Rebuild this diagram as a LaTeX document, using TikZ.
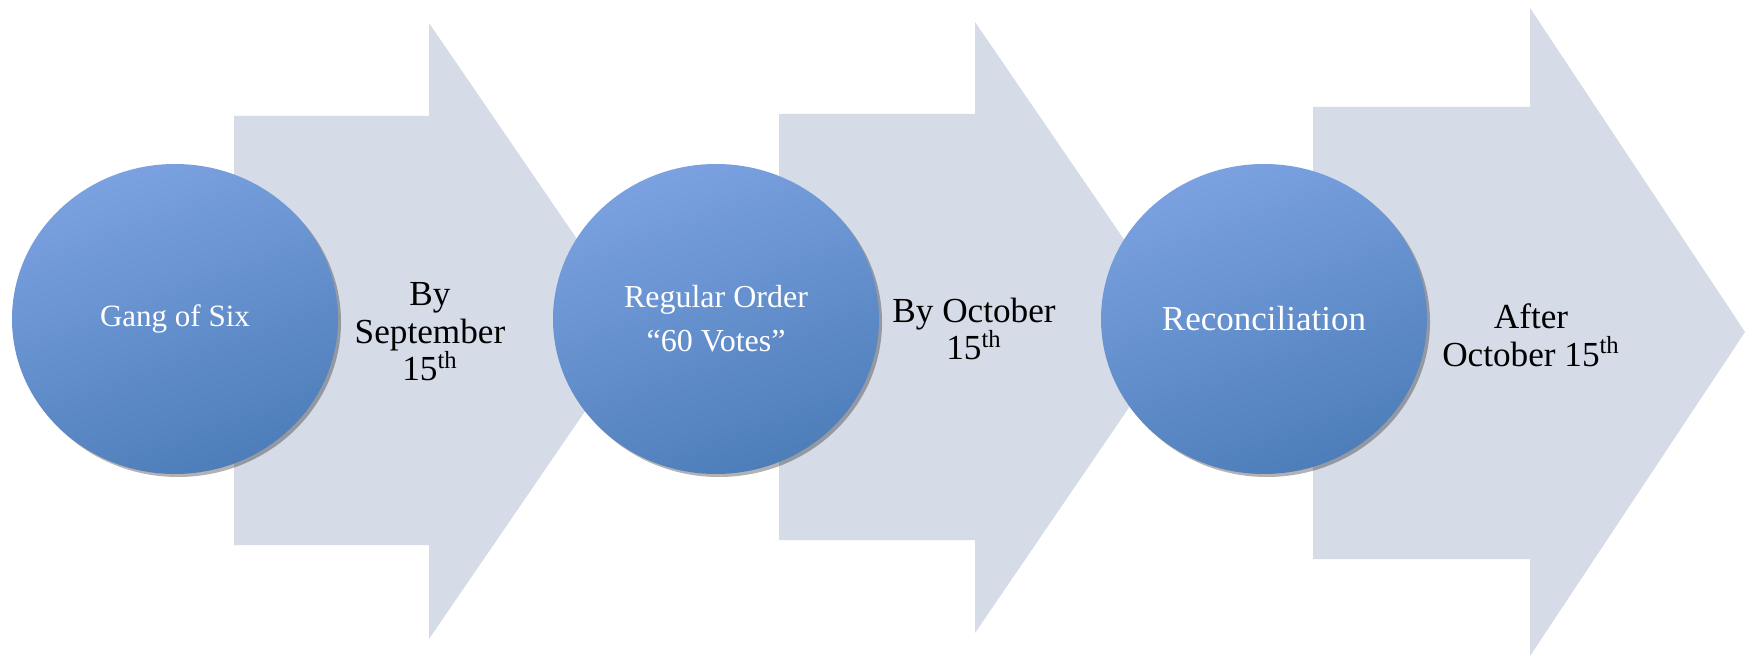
\documentclass[tikz,border=0pt]{standalone}
\usepackage{fontspec}
\setmainfont{Liberation Serif}
\usetikzlibrary{shapes.geometric,shadows}
\definecolor{arrowfill}{HTML}{D5DCE8}
\definecolor{circtop}{HTML}{7BA1E0}
\definecolor{circbot}{HTML}{4D7EBA}
\tikzset{
  stagearrow/.style={fill=arrowfill},
  stage/.style={ellipse, minimum width=163pt, minimum height=155pt, inner sep=0pt,
    top color=circtop, bottom color=circbot, shading angle=20,
    drop shadow={shadow xshift=1.5pt, shadow yshift=-1.5pt, opacity=0.3, fill=black},
    text=white, align=center, font=\fontsize{16}{22}\selectfont},
  when/.style={align=center, font=\fontsize{17.6}{18.8}\selectfont}
}
\begin{document}
\begin{tikzpicture}[x=0.5pt,y=-0.5pt]
  \fill[white] (0,0) rectangle (1748,657);
  \useasboundingbox (0,0) rectangle (1748,657);
  % arrows
  \fill[stagearrow] (234,116) -- (429,116) -- (429,23) -- (640,331)
    -- (429,639) -- (429,545) -- (234,545) -- cycle;
  \fill[stagearrow] (779,114) -- (975,114) -- (975,22) -- (1184,327)
    -- (975,633) -- (975,540) -- (779,540) -- cycle;
  \fill[stagearrow] (1313,107) -- (1530,107) -- (1530,8) -- (1745,332)
    -- (1530,656) -- (1530,559) -- (1313,559) -- cycle;
  % dates
  \node (sept) at (430,332) [when] {By\\September\\15\textsuperscript{th}};
  \node (oct) at (974,329) [when] {By October\\15\textsuperscript{th}};
  \node (after) at (1531,335) [when] {After\\October 15\textsuperscript{th}};
  % stages
  \node (gang) at (175,319) [stage, font=\fontsize{15.5}{22}\selectfont] {Gang of Six};
  \node (regular) at (716,319) [stage] {Regular Order\\“60 Votes”};
  \node (recon) at (1264,319) [stage, font=\fontsize{17.5}{22}\selectfont] {Reconciliation};
\end{tikzpicture}
\end{document}
